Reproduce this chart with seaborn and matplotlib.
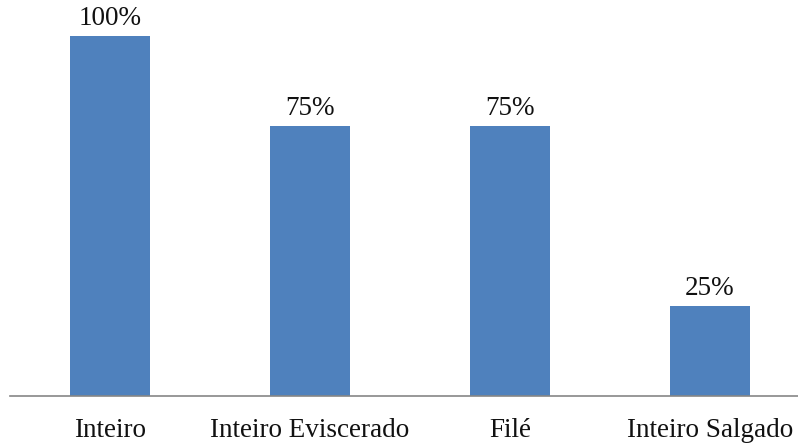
import matplotlib
matplotlib.use("Agg")
import matplotlib.pyplot as plt
import seaborn as sns
import pandas as pd

# Data
categories = ["Inteiro", "Inteiro Eviscerado", "Filé", "Inteiro Salgado"]
percentages = [100, 75, 75, 25]

df = pd.DataFrame({"produto": categories, "pct": percentages})

sns.set_style("white")
plt.rcParams["font.family"] = ["Liberation Serif", "DejaVu Serif"]

fig = plt.figure(figsize=(7.98, 4.43), dpi=100)
ax = fig.add_axes([10 / 798, 1 - 396 / 443, 1 - 10 / 798, 396 / 443])

sns.barplot(data=df, x="produto", y="pct", color="#4F81BD", width=0.4,
            saturation=1, linewidth=0, ax=ax)

# value labels above the bars
for i, v in enumerate(percentages):
    ax.text(i, v + 1.5, f"{v}%", ha="center", va="bottom", fontsize=19.5,
            color="#111111")

ax.set_xlim(-0.5, 3.44)
ax.set_ylim(0, 110)
ax.set_xlabel("")
ax.set_ylabel("")
ax.set_yticks([])
ax.tick_params(axis="x", length=0, labelsize=19.5, pad=16, colors="#111111")

for side in ["top", "right", "left"]:
    ax.spines[side].set_visible(False)
ax.spines["bottom"].set_color("#868686")
ax.spines["bottom"].set_linewidth(1.2)

plt.savefig("out.png", dpi=100)
plt.close()
